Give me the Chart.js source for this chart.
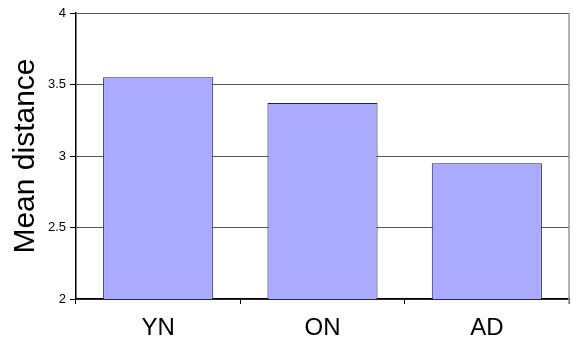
<!DOCTYPE html>
<html>
<head>
<meta charset="utf-8">
<script src="https://cdn.jsdelivr.net/npm/chart.js@4/dist/chart.umd.min.js"></script>
<style>
  html, body { margin: 0; padding: 0; background: #fff; }
  #wrap { width: 573px; height: 343px; position: relative; }
</style>
</head>
<body>
<div id="wrap"><canvas id="distChart"></canvas></div>
<script>
// ===== Data =====
const categories = ["YN", "ON", "AD"];
const meanDistance = [3.55, 3.37, 2.95];
const yTicks = [2, 2.5, 3, 3.5, 4];

const FONT = "'Liberation Sans', Arial, sans-serif";

// grey frame line on the right side of the plot area
const rightFrame = {
    id: "rightFrame",
    afterDraw(chart) {
        const { ctx, chartArea } = chart;
        ctx.save();
        ctx.strokeStyle = "#999";
        ctx.lineWidth = 1.5;
        ctx.beginPath();
        ctx.moveTo(chartArea.right, chartArea.top);
        ctx.lineTo(chartArea.right, chartArea.bottom + 5);
        ctx.stroke();
        ctx.restore();
    }
};

new Chart(document.getElementById("distChart"), {
    type: "bar",
    data: {
        labels: categories,
        datasets: [{
            label: "Mean distance",
            data: meanDistance,
            backgroundColor: "#aaaaff",
            borderColor: "#222244",
            borderWidth: 1,
            borderSkipped: false,
            categoryPercentage: 1,
            barPercentage: 0.67
        }]
    },
    options: {
        responsive: true,
        maintainAspectRatio: false,
        animation: false,
        layout: { padding: { top: 13, right: 4, left: 0, bottom: 0 } },
        plugins: {
            legend: { display: false },
            tooltip: { enabled: false }
        },
        scales: {
            x: {
                offset: true,
                grid: {
                    drawOnChartArea: false,
                    drawTicks: true,
                    tickLength: 5,
                    tickColor: "#000",
                    offset: true
                },
                border: { color: "#000", width: 1.5 },
                ticks: {
                    color: "#000",
                    padding: 10,
                    font: { family: FONT, size: 24 }
                },
                afterFit(scale) { scale.height = 44; }
            },
            y: {
                min: 2,
                max: 4,
                afterBuildTicks(scale) {
                    scale.ticks = yTicks.map(v => ({ value: v }));
                },
                grid: {
                    color: "#555",
                    lineWidth: 1,
                    tickLength: 6,
                    tickColor: "#000"
                },
                border: { color: "#000", width: 1.5 },
                ticks: {
                    color: "#000",
                    padding: 4,
                    font: { family: FONT, size: 13 },
                    callback: v => String(v)
                },
                title: {
                    display: true,
                    text: "Mean distance",
                    color: "#000",
                    padding: { top: 8, bottom: 0 },
                    font: { family: FONT, size: 30 }
                },
                afterFit(scale) { scale.width = 76; }
            }
        }
    },
    plugins: [rightFrame]
});
</script>
</body>
</html>
